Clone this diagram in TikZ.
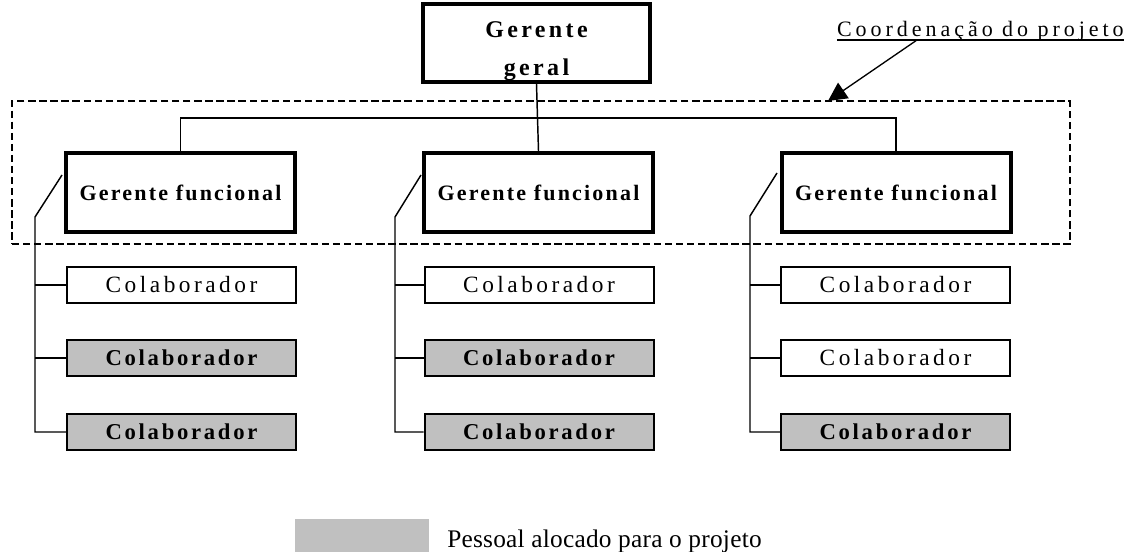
\documentclass[tikz,border=0pt]{standalone}
\usepackage{fontspec}
\setmainfont{Liberation Serif}
% letter-spaced variants of the serif face
\newfontfamily\headfont[LetterSpace=14]{Liberation Serif}
\newfontfamily\fnfont[LetterSpace=10]{Liberation Serif}
\newfontfamily\boldspaced[LetterSpace=12]{Liberation Serif}
\newfontfamily\plainspaced[LetterSpace=15]{Liberation Serif}
\newfontfamily\annfont[LetterSpace=18]{Liberation Serif}
\newfontfamily\keyfont[LetterSpace=1]{Liberation Serif}
\usetikzlibrary{arrows.meta,calc}
\definecolor{projgray}{HTML}{C0C0C0}

\begin{document}
\begin{tikzpicture}[x=0.75pt,y=-0.75pt,
  mgr/.style={draw, line width=3pt, inner sep=0pt, align=center, fill=white},
  topbox/.style={mgr, minimum width=227*0.75pt, minimum height=78*0.75pt},
  toptext/.style={inner sep=0pt, align=center,
    font=\headfont\bfseries\fontsize{18pt}{28.5pt}\selectfont},
  fnbox/.style={mgr, minimum width=229*0.75pt, minimum height=79*0.75pt,
    font=\fnfont\bfseries\fontsize{16.5pt}{19pt}\selectfont},
  colbox/.style={draw, line width=1.5pt, inner sep=0pt, fill=white,
    minimum width=229*0.75pt, minimum height=36*0.75pt,
    font=\plainspaced\fontsize{17.5pt}{20pt}\selectfont},
  projbox/.style={colbox, fill=projgray,
    font=\boldspaced\bfseries\fontsize{17pt}{20pt}\selectfont},
  link/.style={line width=1.1pt},
]
\useasboundingbox (0,0) rectangle (1127,552);

% project coordination frame
\node[draw, dashed, dash pattern=on 5.5pt off 2.8pt, line width=1pt,
      minimum width=1058*0.75pt, minimum height=143*0.75pt, inner sep=0pt]
      (coord) at (541,172.5) {};

% managers
\node[topbox] (gg) at (536.5,43) {};
\node[toptext, anchor=north] (ggtext) at (536.5,21) {Gerente\\geral};
\node[fnbox] (f1) at (180.5,192.5) {Gerente funcional};
\node[fnbox] (f2) at (538.5,192.5) {Gerente funcional};
\node[fnbox] (f3) at (896,192.5) {Gerente funcional};

% collaborators
\node[colbox]  (c11) at (181.5,285) {Colaborador};
\node[projbox] (c12) at (181.5,358) {Colaborador};
\node[projbox] (c13) at (181.5,432) {Colaborador};
\node[colbox]  (c21) at (539,285) {Colaborador};
\node[projbox] (c22) at (539,358) {Colaborador};
\node[projbox] (c23) at (539,432) {Colaborador};
\node[colbox]  (c31) at (895.5,285) {Colaborador};
\node[colbox]  (c32) at (895.5,358) {Colaborador};
\node[projbox] (c33) at (895.5,432) {Colaborador};

% hierarchy lines
\coordinate (bar) at (0,118);
\draw[link] (gg.south) -- (f2.north);
\draw[link] (f1.north) -- (f1.north |- bar) -- (f3.north |- bar) -- (f3.north);

% spines from each functional manager to its collaborators
\coordinate (k1) at (35,217);  \coordinate (t1) at (62,175);
\coordinate (k2) at (395,217); \coordinate (t2) at (421,175);
\coordinate (k3) at (750,216); \coordinate (t3) at (777,173);
\foreach \i in {1,2,3}{
  \draw[link] (t\i) -- (k\i) -- (k\i |- c\i3.west) -- (c\i3.west);
  \draw[link] (k\i |- c\i1.west) -- (c\i1.west);
  \draw[link] (k\i |- c\i2.west) -- (c\i2.west);
}

% annotation
\node[anchor=base east, inner sep=0pt,
      font=\annfont\fontsize{16.5pt}{19pt}\selectfont] (note) at (1124,37)
      {Coordenação do projeto};
\draw[line width=1.1pt] ([yshift=-2.4pt]note.base west) -- ([yshift=-2.4pt]note.base east);
\coordinate (tail) at (917,40);
\coordinate (tip) at (828,101);
\draw[line width=1pt, -{Triangle[length=14pt,width=14pt]}] (tail) -- (tip);

% legend
\node[fill=projgray, inner sep=0pt, minimum width=134*0.75pt,
      minimum height=33*0.75pt] (key) at (362,535.5) {};
\node[anchor=base west, inner sep=0pt,
      font=\keyfont\fontsize{19pt}{22pt}\selectfont] (keytext) at (447,547)
      {Pessoal alocado para o projeto};
\end{tikzpicture}
\end{document}
